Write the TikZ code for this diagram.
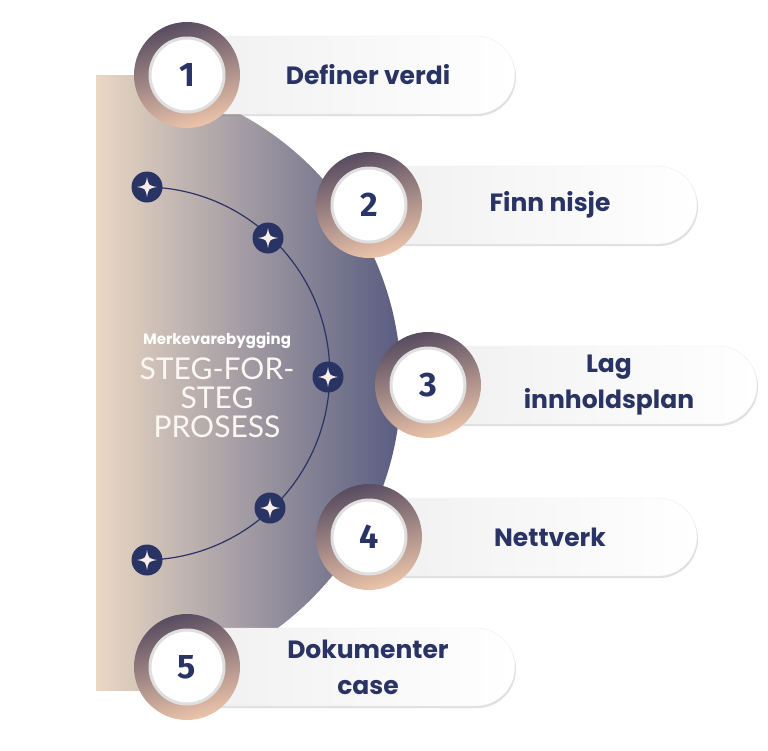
\documentclass[tikz,border=0pt]{standalone}
\usepackage{fontspec}
\setmainfont{Poppins}
\newfontfamily\numfont{Fira Sans}
\newfontfamily\thinfont{Lato}
\usetikzlibrary{positioning,shadows}
\definecolor{navy}{RGB}{42,52,100}
\definecolor{sand}{RGB}{234,216,196}
\definecolor{slate}{RGB}{88,92,128}
\definecolor{plum}{RGB}{88,76,96}
\definecolor{peach}{RGB}{236,196,170}
\newcommand{\sparkle}[1]{%
  \fill[sand!40!white,shift={(#1)}] (0,-10) .. controls (1.5,-1.5) .. (10,0)
    .. controls (1.5,1.5) .. (0,10) .. controls (-1.5,1.5) .. (-10,0)
    .. controls (-1.5,-1.5) .. (0,-10) -- cycle;}
\begin{document}
\begin{tikzpicture}[x=1pt,y=-1pt,
  pill/.style={rounded corners=39pt,minimum height=78pt,
    left color=gray!12,right color=white,draw=gray!15,
    drop shadow={shadow xshift=1pt,shadow yshift=-2pt,opacity=0.25}},
  ring/.style={circle,minimum size=106pt,top color=plum,bottom color=peach,
    shading angle=15},
  disc/.style={circle,minimum size=74pt,fill=white,draw=gray!25,line width=3pt},
  num/.style={font=\numfont\bfseries\fontsize{34}{34}\selectfont,text=navy},
  label/.style={font=\bfseries\fontsize{25}{36}\selectfont,text=navy,align=center},
  star/.style={circle,fill=navy,minimum size=31pt,inner sep=0pt},
  band/.style={left color=sand,right color=slate}]
  \useasboundingbox (0,0) rectangle (768,750);

  % backdrop
  \begin{scope}
    \clip (96,75) rectangle (200,690);
    \shade[band] (96,75) rectangle (401,690);
  \end{scope}
  \begin{scope}
    \clip (96,0) rectangle (768,750);
    \clip (96,383) circle (305);
    \shade[band] (96,75) rectangle (401,690);
  \end{scope}

  % arc with stars
  \draw[navy,line width=1.2pt] (147,187) arc (-89:89:{186} and {186.5});
  \foreach \i/\x/\y in {1/147/187,2/268/238,3/328/377,4/270/508,5/147/560}{
    \node[star] (s\i) at (\x,\y) {};
    \sparkle{s\i}
  }

  % center texts
  \node[font=\bfseries\fontsize{15}{15}\selectfont,text=white] (head) at (217,341) {Merkevarebygging};
  \node[font=\thinfont\fontsize{30}{29}\selectfont,text=white!80!sand,align=center,below=2pt of head] (title) {STEG-FOR-\\STEG\\PROSESS};

  % steps
  \foreach \i/\cx/\cy/\len/\txt in {1/187/75/328/{Definer verdi},2/369/205/328/{Finn nisje},
      3/428/385/329/{Lag\\innholdsplan},4/369/537/328/{Nettverk},5/187/667/328/{Dokumenter\\case}}{
    \node[pill,minimum width=\len pt] (p\i) at (\cx+\len/2,\cy) {};
    \node[ring] (c\i) at (\cx,\cy) {};
    \node[disc] (d\i) at (c\i) {};
    \node[num] (n\i) at (d\i) {\i};
    \node[label] (t\i) at (\cx+181,\cy) {\txt};
  }
\end{tikzpicture}
\end{document}
